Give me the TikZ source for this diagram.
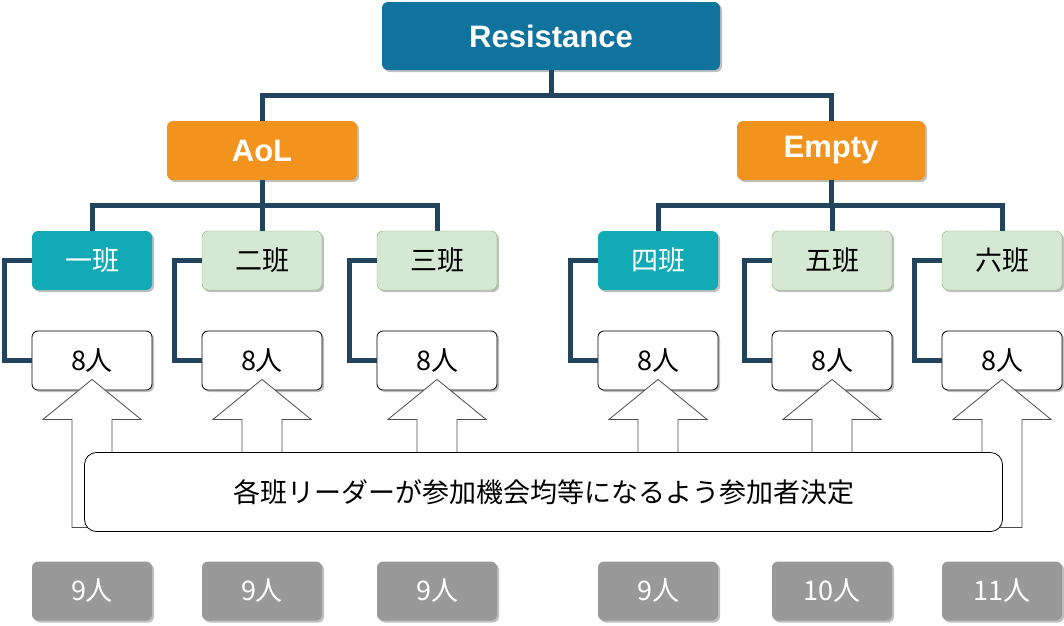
\documentclass[tikz,border=0pt]{standalone}
\usepackage{fontspec}
\setmainfont{Liberation Sans}
\newfontfamily\cjk{Noto Sans CJK JP}
\usetikzlibrary{shadows}
\definecolor{navy}{HTML}{23445D}
\definecolor{topblue}{HTML}{10739E}
\definecolor{orng}{HTML}{F2931E}
\definecolor{teal}{HTML}{12AAB5}
\definecolor{lgreen}{HTML}{D5E8D4}
\definecolor{gborder}{HTML}{82B366}
\begin{document}
\begin{tikzpicture}[x=1pt,y=-1pt,
  sh/.style={drop shadow={shadow xshift=2pt,shadow yshift=-2pt,fill=black!25,opacity=1}},
  box/.style={rectangle,rounded corners=6pt,inner sep=0pt,minimum width=120pt,minimum height=59pt,sh},
  head/.style={box,draw=none,text=white,font=\bfseries\fontsize{31}{34}\selectfont},
  cls/.style={box,font=\cjk\fontsize{27}{30}\selectfont},
  num/.style={box,draw=black,fill=white,line width=0.8pt,font=\cjk\fontsize{27}{30}\selectfont},
  grey/.style={box,draw=none,fill=black!40,text=white,font=\cjk\fontsize{27}{30}\selectfont},
  conn/.style={draw=navy,line width=5pt},
  barr/.style={draw=black!70,fill=white,line width=0.8pt}]
\useasboundingbox (0,0) rectangle (1064,625);
\node[head,fill=topblue,minimum width=338pt,minimum height=68pt] (res) at (551,36) {Resistance};
\node[head,fill=orng,minimum width=190pt] (aol) at (262,150.5) {AoL};
\node[head,fill=orng,minimum width=188pt] (emp) at (831,150.5) {Empty};
\foreach \n/\x/\t/\c in {c1/92/一班/1,c2/262/二班/0,c3/437/三班/0,c4/658/四班/1,c5/832/五班/0,c6/1002/六班/0}{
  \ifnum\c=1
    \node[cls,fill=teal,text=white] (\n) at (\x,260.5) {\t};
  \else
    \node[cls,fill=lgreen,draw=gborder] (\n) at (\x,260.5) {\t};
  \fi
}
\foreach \n/\x in {p1/92,p2/262,p3/437,p4/658,p5/832,p6/1002}
  \node[num] (\n) at (\x,360.5) {8人};
\foreach \n/\x/\t in {g1/92/9人,g2/262/9人,g3/437/9人,g4/658/9人,g5/832/10人,g6/1002/11人}
  \node[grey] (\n) at (\x,591) {\t};
\draw[conn] (res.south) -- ++(0,25) -| (aol.north);
\draw[conn] (res.south) -- ++(0,25) -| (emp.north);
\draw[conn] (aol.south) -- ++(0,25) -| (c1.north);
\draw[conn] (aol.south) -- ++(0,25) -| (c2.north);
\draw[conn] (aol.south) -- ++(0,25) -| (c3.north);
\draw[conn] (emp.south) -- ++(0,25) -| (c4.north);
\draw[conn] (emp.south) -- ++(0,25) -| (c5.north);
\draw[conn] (emp.south) -- ++(0,25) -| (c6.north);
\foreach \i in {1,...,6}
  \draw[conn] (c\i.west) -- ++(-27,0) |- (p\i.west);
\foreach \i in {1,...,6}{
  \coordinate (t\i) at ([yshift=11pt]p\i.south);
  \draw[barr] (t\i) -- ++(49,40) -- ++(-29,0) -- ++(0,108) -- ++(-40,0) -- ++(0,-108) -- ++(-29,0) -- cycle;
}
\node[draw=black,fill=white,rounded corners=12pt,minimum width=918pt,minimum height=79pt,inner sep=0pt,line width=0.8pt,font=\cjk\fontsize{27}{30}\selectfont] (txt) at (543.5,492) {各班リーダーが参加機会均等になるよう参加者決定};
\end{tikzpicture}
\end{document}
